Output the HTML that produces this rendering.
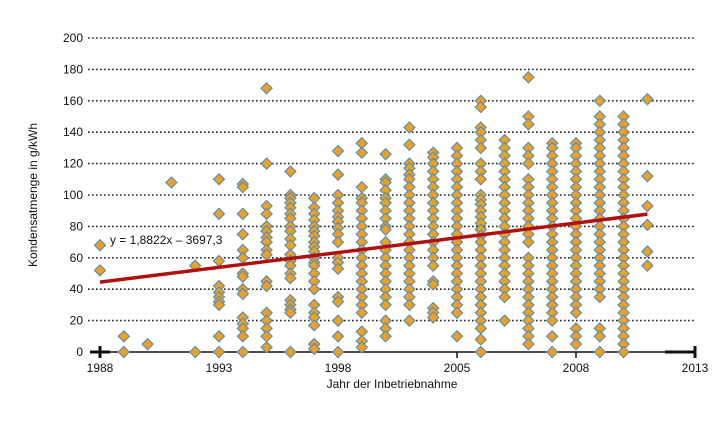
<!DOCTYPE html>
<html><head><meta charset="utf-8"><style>
body{margin:0;background:#fff;}
svg{display:block;font-family:"Liberation Sans",sans-serif;}
</style></head><body>
<svg id="chart" width="726" height="440" viewBox="0 0 726 440">
<g id="grid"></g>
<g id="yticks"></g>
<g id="xaxis"></g>
<g id="points"></g>
<g id="trend"></g>
<text x="37" y="195" transform="rotate(-90 37 195)" text-anchor="middle" font-size="12" fill="#111">Kondensatmenge in g/kWh</text>
<text x="392" y="388" text-anchor="middle" font-size="12" fill="#111">Jahr der Inbetriebnahme</text>
<text x="110" y="244" font-size="12" fill="#111">y = 1,8822x – 3697,3</text>
</svg>
<script>
const yTicks=[0,20,40,60,80,100,120,140,160,180,200];
const xTickYears=[1988,1993,1998,2003,2008,2013];
const xTickLabels=["1988","1993","1998","2005","2008","2013"];
const years=[1988,1989,1990,1991,1992,1993,1994,1995,1996,1997,1998,1999,2000,2001,2002,2003,2004,2005,2006,2007,2008,2009,2010,2011];
const values=[
[68,52],
[10,0],
[5],
[108],
[55,0],
[110,88,58,42,38,35,32,30,10,0],
[107,105,88,75,65,60,50,48,40,37,22,18,15,10,0],
[168,120,93,88,80,77,73,70,65,62,45,42,25,20,15,10,3],
[115,100,98,95,92,88,85,80,77,72,68,62,58,55,50,47,33,30,27,25,0],
[98,92,88,84,80,77,74,70,67,64,60,57,55,50,45,40,30,25,22,17,5,2],
[128,113,100,95,90,86,83,79,75,70,60,57,53,35,32,20,10,0],
[133,127,105,98,95,90,85,80,75,70,65,60,55,50,45,40,35,30,25,13,7,3],
[126,110,108,103,98,95,90,85,80,78,70,65,60,55,50,45,40,35,30,20,15,10],
[143,132,120,117,113,110,105,100,95,90,85,80,75,70,65,60,55,50,45,40,35,30,20],
[127,124,120,115,110,105,100,95,90,85,80,75,70,65,60,55,45,43,28,25,22],
[130,125,120,115,110,105,100,95,90,85,80,75,70,65,60,55,50,45,40,35,30,25,10],
[160,156,143,140,135,130,120,115,110,100,97,94,90,86,82,78,74,70,65,60,55,50,45,40,35,30,25,20,15,8,0],
[135,130,125,120,115,110,105,100,95,90,85,80,75,70,65,60,55,50,45,40,35,20],
[175,150,145,130,125,120,110,105,100,95,90,85,80,75,70,60,55,50,45,40,35,30,25,20,15,10,5],
[133,130,125,120,115,110,105,100,95,90,85,80,75,70,65,60,55,50,45,40,35,30,25,20,10,0],
[133,130,125,120,115,110,105,100,95,90,85,80,75,70,65,60,55,50,45,40,35,30,25,15,10,5],
[160,150,145,140,135,130,125,120,115,110,105,100,95,90,85,80,75,70,65,60,55,50,45,40,35,15,10,0],
[150,145,140,135,130,125,120,115,110,105,100,95,90,85,80,75,70,65,60,55,50,45,40,35,30,25,20,15,10,5,0],
[161,112,93,81,64,55]
];
const trendSlope=1.8822, trendIntercept=-3697.3;
const trendYears=[1988,2011];

const NS="http://www.w3.org/2000/svg";
const X0=100,X1=695,Y0=352,Y1=38;
const xs=y=>X0+(y-1988)*(X1-X0)/(2013-1988);
const ys=v=>Y0-(v/200)*(Y0-Y1);
function mk(tag,attrs,parent){const e=document.createElementNS(NS,tag);for(const k in attrs)e.setAttribute(k,attrs[k]);parent.appendChild(e);return e;}
const grid=document.getElementById('grid'),yt=document.getElementById('yticks'),xa=document.getElementById('xaxis'),pts=document.getElementById('points'),tr=document.getElementById('trend');
yTicks.forEach(t=>{
  if(t>0){const l=mk('line',{x1:88,x2:695,y1:ys(t),y2:ys(t),stroke:'#222','stroke-width':1.6,'stroke-dasharray':'1.6 2.4'},grid);
  
  }
  const tx=mk('text',{x:83,y:ys(t)+4,'text-anchor':'end','font-size':12,fill:'#111'},yt);
  tx.textContent=t;
  
  
});
const ax=mk('line',{x1:90,x2:695,y1:Y0,y2:Y0,stroke:'#111','stroke-width':1.5},xa);


mk('line',{x1:90,x2:110,y1:Y0,y2:Y0,stroke:'#111','stroke-width':3},xa);
mk('line',{x1:665,x2:695,y1:Y0,y2:Y0,stroke:'#111','stroke-width':3},xa);
xTickYears.forEach((y,i)=>{
  const big=(i==0||i==xTickYears.length-1);
  mk('line',{x1:xs(y),x2:xs(y),y1:Y0-(big?6:0),y2:Y0+6,stroke:'#111','stroke-width':big?3:1.5},xa);
  const tx=mk('text',{x:xs(y),y:372,'text-anchor':'middle','font-size':12,fill:'#111'},xa);
  tx.textContent=xTickLabels[i];
  
  
});
years.forEach((yr,i)=>{
  values[i].forEach(v=>{
    const cx=xs(yr),cy=ys(v),r=5.5;
    const p=mk('polygon',{points:`${cx},${cy-r} ${cx+r},${cy} ${cx},${cy+r} ${cx-r},${cy}`,fill:'#f0a021',stroke:'#5a8fb0','stroke-width':1.2},pts);
    
    
  });
});
const tl=mk('line',{x1:xs(trendYears[0]),y1:ys(trendSlope*trendYears[0]+trendIntercept),x2:xs(trendYears[1]),y2:ys(trendSlope*trendYears[1]+trendIntercept),stroke:'#b01010','stroke-width':3.5},tr);


</script>
</body></html>
